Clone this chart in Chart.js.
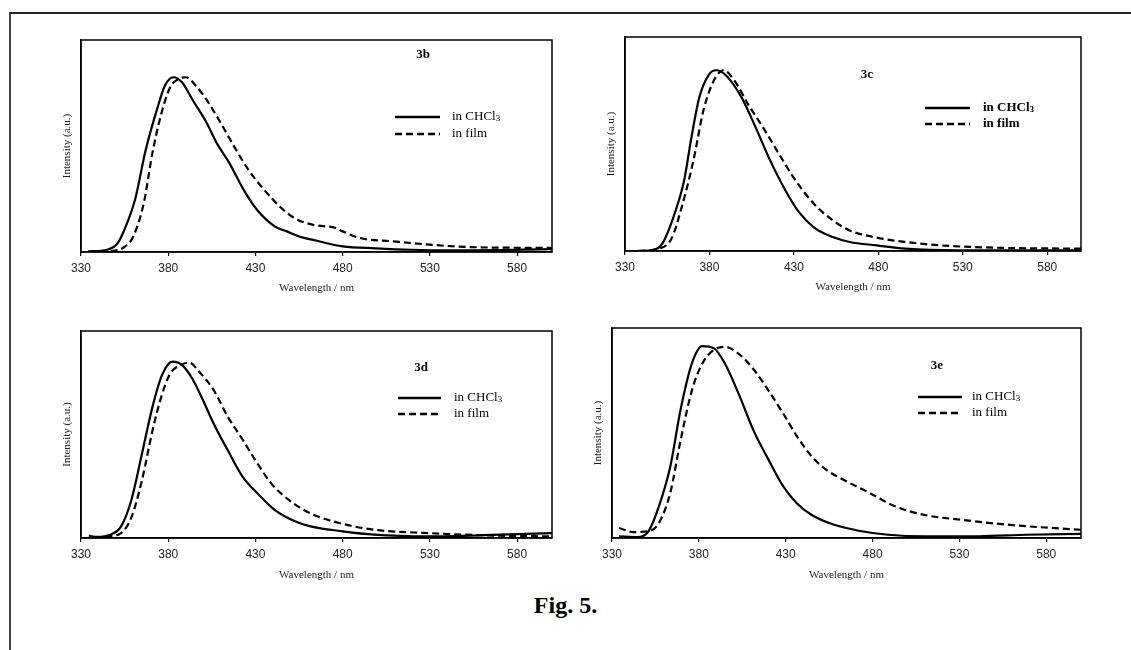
<!DOCTYPE html>
<html>
<head>
<meta charset="utf-8">
<script src="https://cdn.jsdelivr.net/npm/chart.js@4.4.1/dist/chart.umd.min.js"></script>
<style>
  html, body { margin: 0; padding: 0; background: #fff; }
  body { width: 1131px; height: 650px; position: relative; overflow: hidden; }
  #moldura { position: absolute; left: 9px; top: 12px; width: 1130px; height: 650px;
             border-top: 2px solid #222; border-left: 2px solid #444; }
  canvas { position: absolute; }
  #legenda { position: absolute; left: 0; width: 1131px; top: 592px; text-align: center;
             font: bold 24px "Liberation Serif", "Times New Roman", serif; color: #000; }
</style>
</head>
<body>
<div id="moldura"></div>
<canvas id="g3b"></canvas>
<canvas id="g3c"></canvas>
<canvas id="g3d"></canvas>
<canvas id="g3e"></canvas>
<div id="legenda">Fig. 5.</div>

<script>
// Eixo X (comprimento de onda, nm)
const ticksX = [330, 380, 430, 480, 530, 580];

// 3b - espectros (intensidade normalizada)
const wl3bSol = [334, 345, 351, 355, 361, 367, 374, 378, 383, 388, 394, 402, 408, 415, 423, 431, 441, 448, 456, 464, 480, 499, 519, 550, 600];
const int3bSol = [0.004, 0.013, 0.05, 0.13, 0.30, 0.58, 0.83, 0.95, 1.0, 0.97, 0.87, 0.74, 0.62, 0.51, 0.36, 0.24, 0.147, 0.118, 0.086, 0.067, 0.032, 0.021, 0.013, 0.010, 0.017];
const wl3bFilm = [347, 354, 360, 366, 371, 376, 381, 386, 390, 396, 402, 410, 418, 426, 435, 445, 453, 463, 476, 480, 490, 509, 530, 550, 600];
const int3bFilm = [0.004, 0.023, 0.09, 0.28, 0.57, 0.79, 0.94, 0.99, 1.0, 0.95, 0.87, 0.74, 0.60, 0.47, 0.356, 0.25, 0.19, 0.156, 0.137, 0.118, 0.08, 0.061, 0.042, 0.029, 0.023];

// 3c
const wl3cSol = [337, 347, 352, 358, 365, 369, 374, 380, 384, 390, 399, 408, 416, 425, 433, 442, 453, 463, 479, 496, 528, 600];
const int3cSol = [0, 0.007, 0.04, 0.17, 0.39, 0.61, 0.85, 0.98, 1.0, 0.97, 0.85, 0.67, 0.50, 0.335, 0.215, 0.13, 0.077, 0.05, 0.031, 0.013, 0.004, 0.004];
const wl3cFilm = [338, 350, 357.5, 363.5, 370.5, 376.5, 383, 388.5, 395, 403, 412, 420, 431, 442, 453, 463, 479, 496, 517, 550, 600];
const int3cFilm = [0, 0.013, 0.068, 0.24, 0.50, 0.78, 0.95, 1.0, 0.94, 0.81, 0.68, 0.555, 0.39, 0.26, 0.17, 0.114, 0.074, 0.05, 0.031, 0.018, 0.013];

// 3d
const wl3dSol = [334.5, 339, 347, 353, 359, 365, 371, 376.5, 382.5, 388, 394, 400, 406, 414, 422.5, 431, 441, 453, 463.5, 480, 498, 529, 570, 600];
const int3dSol = [0.013, 0.006, 0.02, 0.066, 0.22, 0.48, 0.745, 0.925, 1.0, 0.98, 0.90, 0.78, 0.65, 0.50, 0.35, 0.255, 0.16, 0.094, 0.062, 0.038, 0.019, 0.009, 0.019, 0.028];
const wl3dFilm = [344, 353, 359, 365, 371, 376, 381, 387, 392, 398, 406, 414, 422.5, 431, 439, 449, 461.5, 478, 498, 529, 570, 600];
const int3dFilm = [0.006, 0.028, 0.12, 0.33, 0.61, 0.80, 0.93, 0.98, 0.995, 0.94, 0.84, 0.69, 0.56, 0.425, 0.31, 0.217, 0.14, 0.085, 0.047, 0.028, 0.013, 0.009];

// 3e
const wl3eSol = [334, 344.5, 351, 357, 363.5, 369.5, 376, 382, 388.5, 395, 403, 411.5, 420, 428.5, 436.5, 445, 457.5, 472, 489, 510, 541, 568.5, 600];
const int3eSol = [0.009, 0.005, 0.035, 0.165, 0.37, 0.67, 0.91, 1.0, 0.99, 0.91, 0.75, 0.56, 0.41, 0.27, 0.18, 0.12, 0.07, 0.038, 0.017, 0.009, 0.009, 0.017, 0.022];
const wl3eFilm = [334, 342.5, 351, 357, 363.5, 369.5, 376, 382, 388.5, 395, 403, 411.5, 420, 428.5, 436.5, 445, 453.5, 464, 478.5, 493, 510, 531, 562, 600];
const int3eFilm = [0.052, 0.031, 0.035, 0.078, 0.234, 0.51, 0.77, 0.91, 0.98, 0.997, 0.96, 0.88, 0.77, 0.65, 0.53, 0.425, 0.355, 0.30, 0.234, 0.165, 0.12, 0.095, 0.066, 0.043];

function pares(xs, ys) {
    return xs.map((x, i) => ({ x: x, y: ys[i] }));
}

// plugin: moldura da área do gráfico, rótulo do composto e legenda
const caixaPlugin = {
    id: 'caixa',
    afterDraw(chart, args, opts) {
        const ctx = chart.ctx;
        const a = chart.chartArea;
        ctx.save();
        ctx.strokeStyle = '#000';
        ctx.lineWidth = 1.5;
        ctx.strokeRect(a.left, a.top, a.right - a.left, a.bottom - a.top);

        ctx.fillStyle = '#000';
        ctx.textBaseline = 'middle';
        ctx.textAlign = 'center';
        ctx.font = 'bold 13px "Liberation Serif", serif';
        ctx.fillText(opts.nome, a.left + opts.nomePos[0], a.top + opts.nomePos[1]);

        const peso = opts.negrito ? 'bold ' : '';
        chart.data.datasets.forEach((ds, i) => {
            const y = a.top + opts.legY[i];
            ctx.beginPath();
            ctx.setLineDash(ds.borderDash || []);
            ctx.lineWidth = 2.5;
            ctx.moveTo(a.left + opts.legX[0], y);
            ctx.lineTo(a.left + opts.legX[1], y);
            ctx.stroke();
            ctx.setLineDash([]);
            ctx.textAlign = 'left';
            ctx.font = peso + '13px "Liberation Serif", serif';
            const tx = a.left + opts.legX[2];
            if (ds.label === 'in CHCl3') {
                ctx.fillText('in CHCl', tx, y);
                const w = ctx.measureText('in CHCl').width;
                ctx.font = peso + '9px "Liberation Serif", serif';
                ctx.fillText('3', tx + w, y + 2);
            } else {
                ctx.fillText(ds.label, tx, y);
            }
        });
        ctx.restore();
    }
};

function montarGrafico(id, caixa, dados, maxY, extras) {
    const el = document.getElementById(id);
    el.width = caixa.w;
    el.height = caixa.h;
    el.style.left = caixa.x + 'px';
    el.style.top = caixa.y + 'px';
    el.style.width = caixa.w + 'px';
    el.style.height = caixa.h + 'px';

    new Chart(el.getContext('2d'), {
        type: 'line',
        data: {
            datasets: [{
                label: 'in CHCl3',
                data: pares(dados[0], dados[1]),
                borderColor: '#000',
                borderWidth: 2.2,
                pointRadius: 0,
                cubicInterpolationMode: 'monotone'
            }, {
                label: 'in film',
                data: pares(dados[2], dados[3]),
                borderColor: '#000',
                borderWidth: 2.2,
                borderDash: [7, 4],
                pointRadius: 0,
                cubicInterpolationMode: 'monotone'
            }]
        },
        options: {
            responsive: false,
            animation: false,
            layout: { padding: { top: caixa.padTop, right: caixa.padRight, left: 0, bottom: 0 } },
            plugins: {
                legend: { display: false },
                tooltip: { enabled: false },
                caixa: extras
            },
            scales: {
                x: {
                    type: 'linear',
                    min: 330,
                    max: 600,
                    afterBuildTicks: s => { s.ticks = ticksX.map(v => ({ value: v })); },
                    afterFit: s => { s.height = caixa.xH; },
                    grid: { display: true, drawOnChartArea: false, color: '#000', tickLength: 4, lineWidth: 1.2 },
                    border: { display: true, color: '#000', width: 1.5 },
                    ticks: {
                        color: '#222',
                        padding: 5,
                        maxRotation: 0,
                        autoSkip: false,
                        font: { family: 'Liberation Sans', size: 12 }
                    },
                    title: {
                        display: true,
                        text: 'Wavelength / nm',
                        color: '#222',
                        padding: 0,
                        font: { family: 'Liberation Serif', size: 11 }
                    }
                },
                y: {
                    min: 0,
                    max: maxY,
                    afterFit: s => { s.width = caixa.yW; },
                    grid: { display: false },
                    border: { display: true, color: '#000', width: 1.5 },
                    ticks: { display: false },
                    title: {
                        display: true,
                        text: 'Intensity (a.u.)',
                        color: '#222',
                        padding: 0,
                        font: { family: 'Liberation Serif', size: 11 }
                    }
                }
            }
        },
        plugins: [caixaPlugin]
    });
}

document.addEventListener("DOMContentLoaded", function () {
    montarGrafico('g3b', { x: 61, y: 30, w: 501, h: 265, padTop: 10, padRight: 10, yW: 20, xH: 43 },
        [wl3bSol, int3bSol, wl3bFilm, int3bFilm], 1.213,
        { nome: '3b', nomePos: [342, 15], legX: [314, 359, 371], legY: [77, 94], negrito: false });

    montarGrafico('g3c', { x: 605, y: 27, w: 486, h: 267, padTop: 10, padRight: 10, yW: 20, xH: 43 },
        [wl3cSol, int3cSol, wl3cFilm, int3cFilm], 1.184,
        { nome: '3c', nomePos: [242, 38], legX: [300, 345, 358], legY: [71, 87], negrito: true });

    montarGrafico('g3d', { x: 61, y: 321, w: 501, h: 261, padTop: 10, padRight: 10, yW: 20, xH: 44 },
        [wl3dSol, int3dSol, wl3dFilm, int3dFilm], 1.174,
        { nome: '3d', nomePos: [340, 37], legX: [317, 360, 373], legY: [67, 83], negrito: false });

    montarGrafico('g3e', { x: 592, y: 318, w: 499, h: 264, padTop: 10, padRight: 10, yW: 20, xH: 44 },
        [wl3eSol, int3eSol, wl3eFilm, int3eFilm], 1.095,
        { nome: '3e', nomePos: [325, 38], legX: [306, 350, 360], legY: [69, 85], negrito: false });
});
</script>
</body>
</html>
